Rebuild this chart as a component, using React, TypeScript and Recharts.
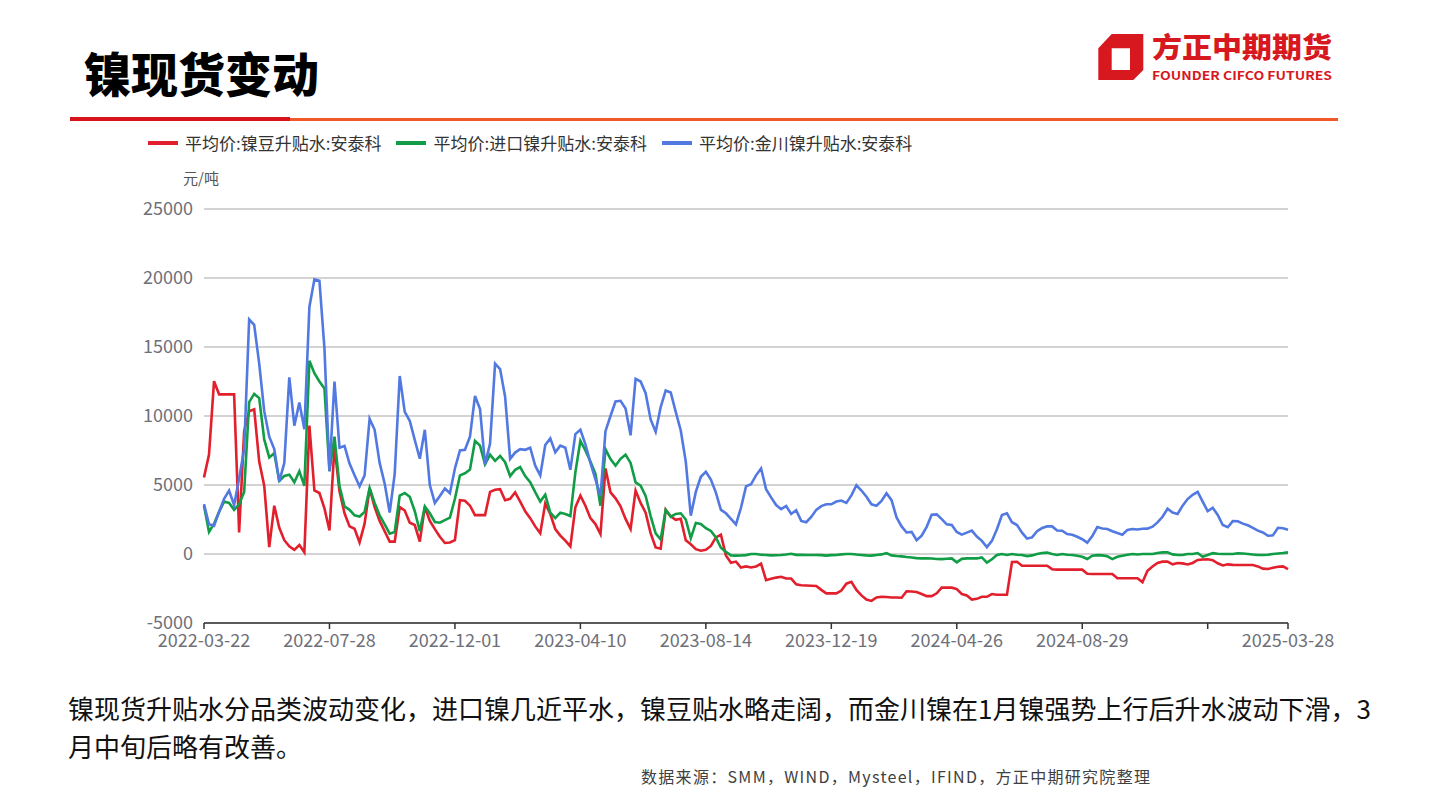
import React from "react";
import { LineChart, Line, XAxis, YAxis, CartesianGrid } from "recharts";

const FONT = '"Noto Sans CJK SC", "Noto Sans", sans-serif';

// tick labels every 25 samples, the last one sits on the final sample
const X_LABELS = [
  "2022-03-22",
  "2022-07-28",
  "2022-12-01",
  "2023-04-10",
  "2023-08-14",
  "2023-12-19",
  "2024-04-26",
  "2024-08-29",
  "",
  "2025-03-28",
];
const LABEL_STEP = 25;
const Y_TICKS = [-5000, 0, 5000, 10000, 15000, 20000, 25000];

// 平均价:镍豆升贴水:安泰科 (元/吨)
const RED = [
  5540, 7200, 12530, 11570, 11570, 11570, 11570, 1570, 8900, 10350,
  10480, 6700, 4950, 500, 3500, 1900, 1000, 550, 300, 650,
  120, 9300, 4600, 4420, 3300, 1700, 7800, 4550, 2950, 2000,
  1830, 840, 2200, 4750, 3400, 2400, 1650, 900, 900, 3400,
  3150, 2270, 2100, 900, 3400, 2400, 1800, 1250, 800, 830,
  1000, 3900, 3860, 3500, 2820, 2820, 2820, 4500, 4650, 4700,
  3900, 4000, 4470, 3800, 3100, 2600, 2000, 1500, 3660, 2900,
  1810, 1330, 970, 550, 3380, 4230, 3500, 2600, 2170, 1450,
  6200, 4470, 4030, 3450, 2540, 1800, 4600, 3700, 3000, 1500,
  470, 380, 3200, 2730, 2480, 2550, 1000, 700, 350, 240,
  300, 580, 1200, 1400, -100, -640, -550, -980, -900, -980,
  -900, -700, -1900, -1800, -1710, -1650, -1780, -1780, -2200, -2270,
  -2280, -2300, -2320, -2600, -2850, -2850, -2850, -2650, -2150, -2020,
  -2600, -3000, -3300, -3400, -3150, -3100, -3120, -3150, -3150, -3170,
  -2700, -2720, -2750, -2900, -3050, -3050, -2850, -2440, -2440, -2440,
  -2540, -2900, -3000, -3300, -3250, -3100, -3100, -2900, -2950, -2950,
  -2950, -580, -560, -850, -850, -850, -850, -850, -850, -1100,
  -1135, -1135, -1135, -1135, -1135, -1135, -1430, -1450, -1450, -1450,
  -1450, -1450, -1760, -1760, -1760, -1760, -1760, -2040, -1220, -900,
  -650, -555, -555, -750, -650, -680, -760, -650, -435, -400,
  -380, -450, -670, -830, -750, -790, -800, -800, -800, -800,
  -900, -1060, -1090, -1000, -920, -900, -1090,
];

// 平均价:进口镍升贴水:安泰科
const GREEN = [
  3500, 1600, 2200, 3050, 3800, 3700, 3200, 3600, 4500, 11000,
  11600, 11300, 8300, 7000, 7300, 5300, 5650, 5750, 5200, 6000,
  4940, 14000, 13100, 12500, 12000, 6000, 8500, 4900, 3450, 3200,
  2800, 2720, 3050, 4780, 3700, 2800, 2150, 1470, 1600, 4240,
  4420, 4150, 3100, 1650, 3450, 2950, 2320, 2270, 2460, 2640,
  4000, 5700, 5850, 6120, 8200, 7850, 6500, 7200, 6750, 7100,
  6650, 5650, 6100, 6300, 5650, 5200, 4480, 3800, 4300, 3000,
  2600, 3000, 2900, 2750, 5920, 8200, 7500, 6700, 5800, 3500,
  7600, 6880, 6400, 6900, 7200, 6600, 5190, 4950, 4200, 2750,
  1500, 1050, 3200, 2700, 2900, 2950, 2500, 1150, 2250, 2180,
  1870, 1670, 1200, 450, 150, -100, -120, -110, -80, 0,
  0, -50, -70, -100, -90, -70, -40, 20, -60, -60,
  -70, -70, -70, -80, -120, -80, -70, -30, 0, 0,
  -40, -70, -100, -120, -70, -30, 60, -100, -150, -170,
  -220, -250, -300, -320, -320, -330, -360, -370, -340, -320,
  -600, -350, -320, -320, -320, -250, -620, -380, -70, 0,
  -70, 0, -50, -70, -150, -100, 0, 70, 100, 0,
  -70, 0, -50, -70, -120, -200, -360, -120, -80, -100,
  -170, -370, -200, -130, -60, 0, -40, 0, 0, 0,
  70, 120, 120, -30, -70, -70, 0, 0, 70, -200,
  -70, 60, 20, 0, 0, 0, 50, 40, 0, -40,
  -70, -70, -50, 0, 40, 70, 120,
];

// 平均价:金川镍升贴水:安泰科
const BLUE = [
  3615, 2150, 2040, 3050, 4000, 4600, 3550, 5470, 7600, 17000,
  16600, 13800, 10350, 8500, 7600, 5250, 6600, 12800, 9300, 10970,
  9040, 17900, 19900, 19800, 14900, 6000, 12500, 7700, 7830, 6550,
  5700, 4900, 5700, 9800, 9000, 6600, 5100, 3000, 5800, 12900,
  10300, 9650, 8260, 6900, 9000, 5000, 3700, 4200, 4750, 4400,
  6200, 7500, 7550, 8500, 11450, 10500, 6500, 8000, 13800, 13400,
  11400, 6900, 7350, 7600, 7550, 7700, 6400, 5700, 7900, 8380,
  7370, 7850, 7700, 6100, 8690, 9000, 7950, 6600, 5400, 4200,
  8900, 10000, 11050, 11100, 10550, 8600, 12700, 12500, 11650, 9750,
  8850, 10650, 11850, 11700, 10300, 8950, 6700, 2780, 4500, 5600,
  5950, 5400, 4450, 3200, 2950, 2550, 2150, 3350, 4900, 5050,
  5700, 6200, 4700, 4100, 3550, 3250, 3480, 2900, 3170, 2400,
  2300, 2680, 3200, 3470, 3600, 3600, 3800, 3870, 3700, 4250,
  4980, 4600, 4150, 3600, 3500, 3850, 4400, 3900, 2650, 2000,
  1560, 1600, 1000, 1330, 1970, 2850, 2870, 2530, 2150, 2100,
  1600, 1400, 1550, 1700, 1270, 950, 500, 950, 1800, 2830,
  2950, 2300, 2100, 1550, 1120, 1200, 1650, 1880, 2000, 2000,
  1700, 1690, 1450, 1400, 1250, 1070, 820, 1300, 1950, 1850,
  1810, 1650, 1520, 1400, 1750, 1810, 1780, 1830, 1840, 1980,
  2290, 2700, 3280, 3000, 2900, 3500, 3980, 4290, 4500, 3800,
  3100, 3350, 2830, 2100, 1940, 2380, 2370, 2200, 2080, 1900,
  1690, 1560, 1320, 1350, 1900, 1870, 1760,
];

const SERIES = [
  { key: "red", name: "平均价:镍豆升贴水:安泰科", color: "#e21f2c", values: RED },
  { key: "green", name: "平均价:进口镍升贴水:安泰科", color: "#109d45", values: GREEN },
  { key: "blue", name: "平均价:金川镍升贴水:安泰科", color: "#5279e2", values: BLUE },
];

const data = RED.map((v, i) => ({ i, red: v, green: GREEN[i], blue: BLUE[i] }));
const lastIdx = RED.length - 1;
const xTicks = X_LABELS.map((_, k) => Math.min(k * LABEL_STEP, lastIdx));

const formatX = (v: number) => {
  const k = xTicks.indexOf(v);
  return k >= 0 ? X_LABELS[k] : "";
};

const Logo = () => (
  <svg
    width={250}
    height={62}
    style={{ position: "absolute", left: 1090, top: 26 }}
  >
    <path
      d="M21.7 8 H53.3 V44 L43.3 54 H8.3 V22.3 Z M21.7 22.3 V44 H40 V22.3 Z"
      fill="#d7191f"
      fillRule="evenodd"
    />
    <text
      x={62}
      y={32}
      fontFamily={FONT}
      fontWeight={900}
      fontSize={28}
      fill="#d7191f"
      textLength={180}
      lengthAdjust="spacingAndGlyphs"
    >
      方正中期期货
    </text>
    <text
      x={62}
      y={54}
      fontFamily={FONT}
      fontWeight={700}
      fontSize={12}
      fill="#d7191f"
      textLength={180}
      lengthAdjust="spacingAndGlyphs"
    >
      FOUNDER CIFCO FUTURES
    </text>
  </svg>
);

const textLine: React.CSSProperties = {
  position: "absolute",
  left: 68,
  fontSize: 26,
  lineHeight: "26px",
  color: "#111",
  whiteSpace: "nowrap",
};

export default function App() {
  return (
    <div
      style={{
        position: "absolute",
        left: 0,
        top: 0,
        width: 1440,
        height: 812,
        background: "#fff",
        overflow: "hidden",
        fontFamily: FONT,
      }}
    >
      <LineChart
        width={1440}
        height={812}
        data={data}
        margin={{ top: 209, right: 152, bottom: 149, left: 124 }}
      >
        <CartesianGrid vertical={false} stroke="#c4c4c4" strokeWidth={1.5} />
        <XAxis
          dataKey="i"
          type="number"
          domain={[0, lastIdx]}
          ticks={xTicks}
          interval={0}
          tickFormatter={formatX}
          height={40}
          axisLine={{ stroke: "#333", strokeWidth: 1.5 }}
          tickLine={{ stroke: "#333", strokeWidth: 1.5 }}
          tickSize={6}
          tickMargin={5}
          tick={{ fill: "#6e7079", fontSize: 18, fontFamily: FONT }}
        />
        <YAxis
          type="number"
          domain={[-5000, 25000]}
          ticks={Y_TICKS}
          interval={0}
          width={80}
          axisLine={false}
          tickLine={false}
          tickMargin={5}
          tick={{ fill: "#6e7079", fontSize: 18, fontFamily: FONT }}
        />
        {SERIES.map((s) => (
          <Line
            key={s.key}
            dataKey={s.key}
            name={s.name}
            type="linear"
            stroke={s.color}
            strokeWidth={2.6}
            dot={false}
            activeDot={false}
            isAnimationActive={false}
          />
        ))}
      </LineChart>

      <div
        style={{
          position: "absolute",
          left: 84,
          top: 48,
          fontSize: 47,
          fontWeight: 900,
          lineHeight: "48px",
          color: "#000",
        }}
      >
        镍现货变动
      </div>
      <div style={{ position: "absolute", left: 70, top: 117, width: 220, height: 4, background: "#d9131c" }} />
      <div style={{ position: "absolute", left: 290, top: 118, width: 1048, height: 3, background: "#f0582a" }} />
      <Logo />

      <div
        style={{
          position: "absolute",
          left: 148,
          top: 131,
          display: "flex",
          alignItems: "center",
          gap: 15,
          fontSize: 17,
          color: "#333",
          whiteSpace: "nowrap",
        }}
      >
        {SERIES.map((s) => (
          <div key={s.key} style={{ display: "flex", alignItems: "center", gap: 7 }}>
            <span style={{ width: 30, height: 4, background: s.color, display: "inline-block" }} />
            <span style={{ lineHeight: "24px" }}>{s.name}</span>
          </div>
        ))}
      </div>
      <div style={{ position: "absolute", left: 183, top: 167, fontSize: 15, color: "#555", lineHeight: "22px" }}>
        元/吨
      </div>

      <div style={{ ...textLine, top: 695 }}>
        镍现货升贴水分品类波动变化，进口镍几近平水，镍豆贴水略走阔，而金川镍在1月镍强势上行后升水波动下滑，3
      </div>
      <div style={{ ...textLine, top: 733 }}>月中旬后略有改善。</div>
      <div
        style={{
          position: "absolute",
          left: 641,
          top: 765,
          fontSize: 16,
          lineHeight: "22px",
          letterSpacing: 1.3,
          color: "#404040",
          whiteSpace: "nowrap",
        }}
      >
        数据来源：SMM，WIND，Mysteel，IFIND，方正中期研究院整理
      </div>
    </div>
  );
}
